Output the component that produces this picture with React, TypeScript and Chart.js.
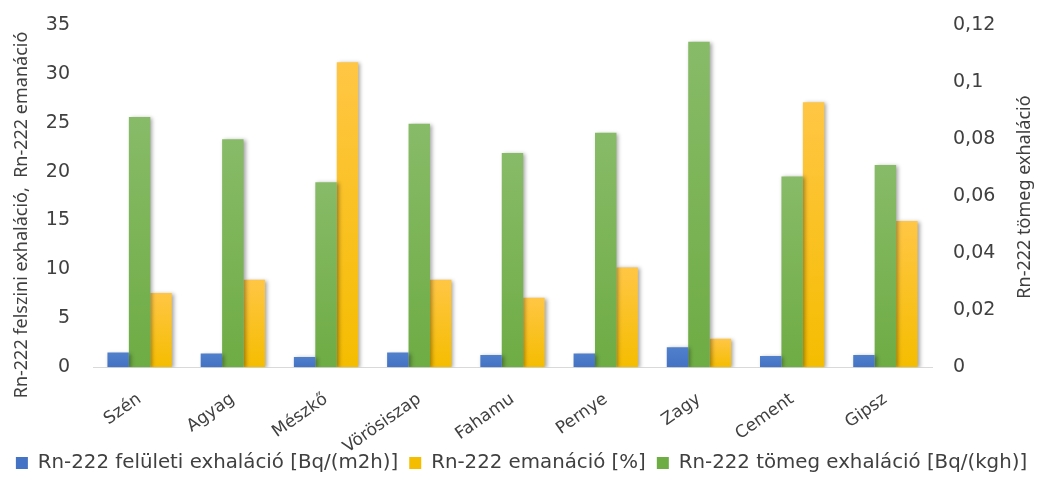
import React, { useEffect, useRef } from 'react';
import { Chart, registerables } from 'chart.js';

Chart.register(...registerables);

const categories = ['Szén', 'Agyag', 'Mészkő', 'Vörösiszap', 'Fahamu', 'Pernye', 'Zagy', 'Cement', 'Gipsz'];
const surfaceExhalation = [1.5, 1.4, 1.05, 1.5, 1.25, 1.4, 2.05, 1.15, 1.25];
const emanation = [7.6, 8.95, 31.2, 8.95, 7.1, 10.2, 2.9, 27.1, 14.95];
const massExhalation = [0.0877, 0.0799, 0.0649, 0.0854, 0.0751, 0.0822, 0.1141, 0.0669, 0.0709];

const seriesNames = [
  'Rn-222 felületi exhaláció [Bq/(m2h)]',
  'Rn-222 tömeg exhaláció [Bq/(kgh)]',
  'Rn-222 emanáció [%]',
];
const leftTitle = 'Rn-222 felszini exhaláció,  Rn-222 emanáció';
const rightTitle = 'Rn-222 tömeg exhaláció';
const legendRank = [0, 2, 1];

const TEXT = '#404040';

function gradientFill(top: string, bottom: string, solid: string) {
  return (ctx: any) => {
    const chart = ctx.chart;
    const meta = chart.getDatasetMeta(ctx.datasetIndex);
    const scale = chart.scales[meta.yAxisID];
    if (!scale || ctx.parsed == null || ctx.type !== 'data') return solid;
    const yTop = scale.getPixelForValue(ctx.parsed.y);
    const yBase = scale.getPixelForValue(0);
    if (!isFinite(yTop) || !isFinite(yBase) || yTop === yBase) return solid;
    const g = chart.ctx.createLinearGradient(0, yTop, 0, yBase);
    g.addColorStop(0, top);
    g.addColorStop(1, bottom);
    return g;
  };
}

const shadowPlugin = {
  id: 'barShadow',
  beforeDatasetsDraw(chart: any) {
    const c = chart.ctx;
    c.save();
    c.shadowColor = 'rgba(0,0,0,0.35)';
    c.shadowBlur = 4;
    c.shadowOffsetX = 2;
    c.shadowOffsetY = 1;
  },
  afterDatasetsDraw(chart: any) {
    chart.ctx.restore();
  },
};

const titlesPlugin = {
  id: 'axisTitles',
  afterDraw(chart: any) {
    const c = chart.ctx;
    c.save();
    c.fillStyle = TEXT;
    c.font = '18px "Noto Sans"';
    c.textAlign = 'center';
    c.textBaseline = 'middle';
    c.translate(22, 215);
    c.rotate(-Math.PI / 2);
    c.fillText(leftTitle, 0, 0);
    c.restore();
    c.save();
    c.fillStyle = TEXT;
    c.font = '18px "Noto Sans"';
    c.textAlign = 'center';
    c.textBaseline = 'middle';
    c.translate(1025, 197);
    c.rotate(-Math.PI / 2);
    c.fillText(rightTitle, 0, 0);
    c.restore();
  },
};

function fitVertical(width: number) {
  return (s: any) => {
    s.width = width;
    s.paddingTop = 0;
    s.paddingBottom = 0;
  };
}

export default function App() {
  const ref = useRef<HTMLCanvasElement>(null);

  useEffect(() => {
    if (!ref.current) return;
    const chart = new Chart(ref.current, {
      type: 'bar',
      data: {
        labels: categories,
        datasets: [
          {
            label: seriesNames[0],
            data: surfaceExhalation,
            yAxisID: 'y',
            backgroundColor: gradientFill('#5080CC', '#4472C4', '#4472C4'),
            borderWidth: 0,
          },
          {
            label: seriesNames[1],
            data: massExhalation,
            yAxisID: 'y1',
            backgroundColor: gradientFill('#88BB68', '#6EAC44', '#70AD47'),
            borderWidth: 0,
          },
          {
            label: seriesNames[2],
            data: emanation,
            yAxisID: 'y',
            backgroundColor: gradientFill('#FFC645', '#F5BD00', '#FFC000'),
            borderWidth: 0,
          },
        ],
      },
      options: {
        animation: false,
        responsive: true,
        maintainAspectRatio: false,
        layout: { padding: { top: 25, left: 0, right: 0, bottom: 5 } },
        datasets: {
          bar: { categoryPercentage: 0.69, barPercentage: 1 },
        },
        plugins: {
          tooltip: { enabled: false },
          legend: {
            position: 'bottom',
            labels: {
              boxWidth: 12,
              boxHeight: 12,
              padding: 11,
              color: TEXT,
              font: { family: '"DejaVu Sans"', size: 19.8 },
              sort: (a: any, b: any) => legendRank[a.datasetIndex] - legendRank[b.datasetIndex],
            },
          },
        },
        scales: {
          x: {
            grid: { display: false, drawTicks: false },
            border: { display: true, color: '#D9D9D9', width: 1 },
            ticks: {
              color: TEXT,
              font: { family: '"DejaVu Sans"', size: 17 },
              maxRotation: 35,
              minRotation: 35,
              padding: 22,
            },
            afterFit: (s: any) => {
              s.height = 75;
              s._computeLabelArea = () => undefined;
            },
          },
          y: {
            position: 'left',
            min: 0,
            max: 35,
            grid: { display: false, drawTicks: false },
            border: { display: false },
            ticks: {
              stepSize: 5,
              color: TEXT,
              padding: 23,
              font: { family: '"DejaVu Sans"', size: 19 },
            },
            afterFit: fitVertical(93),
          },
          y1: {
            position: 'right',
            min: 0,
            max: 0.12,
            grid: { display: false, drawTicks: false },
            border: { display: false },
            ticks: {
              stepSize: 0.02,
              color: TEXT,
              padding: 21,
              font: { family: '"DejaVu Sans"', size: 19 },
              callback: (v: any) => String(Number(Number(v).toFixed(2))).replace('.', ','),
            },
            afterFit: fitVertical(111),
          },
        },
      },
      plugins: [shadowPlugin, titlesPlugin],
    });
    return () => chart.destroy();
  }, []);

  return (
    <div style={{ position: 'fixed', left: 0, top: 0, width: 1043, height: 488, background: '#fff' }}>
      <canvas ref={ref} />
    </div>
  );
}
